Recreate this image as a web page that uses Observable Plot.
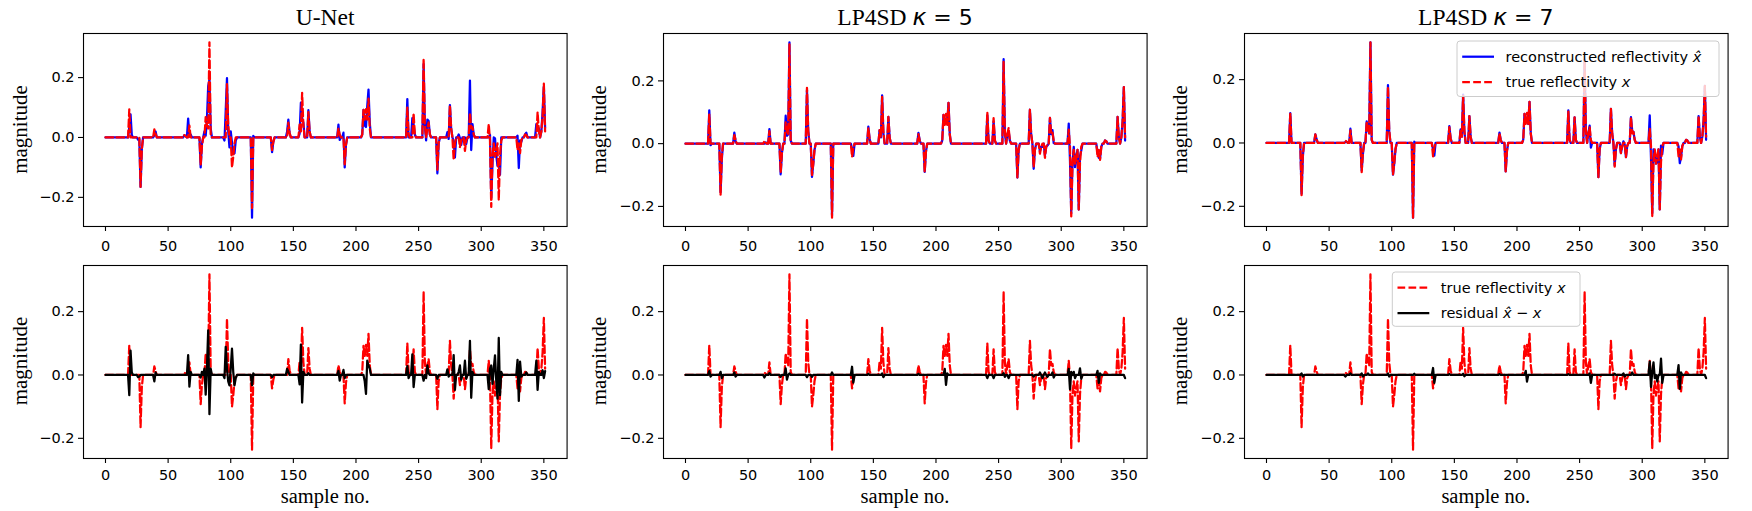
<!DOCTYPE html>
<html><head><meta charset="utf-8">
<script src="https://cdn.jsdelivr.net/npm/d3@7"></script>
<script src="https://cdn.jsdelivr.net/npm/@observablehq/plot@0.6"></script>
<style>
html,body{margin:0;padding:0;background:#fff}
#fig{position:relative;width:1752px;height:511px;overflow:hidden;background:#fff}
#fig > svg, #fig > figure{position:absolute;margin:0}
</style></head>
<body><div id="fig"></div>
<script>
// ---------------- data ----------------
const N_SAMPLES = 352;
const xTicks = [0, 50, 100, 150, 200, 250, 300, 350];
const yTicks = [-0.2, 0.0, 0.2];
const panelTitles = ["U-Net", "LP4SD", "LP4SD"];
const panelKappa = [null, "5", "7"];
const yLabel = "magnitude";
const xLabel = "sample no.";

// true reflectivity x : [sample, value] (zero elsewhere)
const trueSpikes = [
  [19,0.094],[28,-0.165],[29,-0.04],[39,0.027],[40,0.012],[63,0.008],[64,0.004],[67,0.04],
  [76,-0.092],[77,-0.03],[80,0.068],[81,0.04],[82,0.03],[83,0.318],[84,0.01],
  [97,0.178],[98,0.04],[101,-0.1],[102,-0.065],[103,-0.02],
  [117,-0.236],[133,-0.042],[134,-0.015],[146,0.05],[147,0.015],
  [155,0.043],[156,0.02],[157,0.149],[158,0.04],[162,0.085],[163,0.02],
  [186,0.03],[187,0.01],[191,-0.09],[192,-0.025],
  [205,0.01],[206,0.092],[207,0.06],[208,0.095],[209,0.06],[210,0.13],[211,0.03],
  [241,0.1],[242,0.01],[246,0.081],[247,0.01],
  [254,0.263],[255,0.04],[257,0.03],[258,0.05],[259,0.01],
  [265,-0.108],[266,-0.02],[275,0.108],[276,0.03],[278,-0.075],[279,-0.02],
  [283,-0.032],[284,-0.01],[287,-0.045],[288,-0.01],[291,0.082],[292,0.03],[293,0.035],[294,0.01],
  [306,0.045],[307,-0.01],[308,-0.232],[309,-0.06],[310,-0.02],[311,-0.065],[312,-0.04],[313,-0.02],
  [314,-0.21],[315,-0.06],[316,-0.01],
  [329,-0.042],[330,-0.02],[331,-0.052],[332,-0.01],[335,0.01],[336,0.008],
  [345,0.085],[346,0.02],[348,0.02],[349,0.07],[350,0.18],[351,0.02]
];

// residual x_hat - x for each method : [sample, value]
const residualUNet = [
  [19,-0.064],[20,0.077],[21,0.008],[26,-0.007],[27,-0.005],[39,-0.02],[40,0.008],
  [66,0.063],[67,-0.037],[68,0.01],[76,-0.008],[77,0.01],
  [79,0.02],[80,-0.062],[81,0.02],[82,0.141],[83,-0.124],[84,0.02],
  [95,-0.01],[96,0.089],[97,0.02],[98,-0.02],[99,-0.033],[100,0.02],[101,0.083],[102,0.01],[103,-0.033],[104,-0.01],
  [117,-0.032],[118,0.005],[133,-0.007],[145,0.019],[146,0.01],
  [155,-0.03],[156,0.096],[157,-0.087],[158,0.01],[162,0.006],
  [186,0.013],[187,-0.018],[190,0.016],[191,-0.01],
  [207,-0.02],[208,-0.06],[209,0.045],[210,0.03],[211,0.02],
  [241,0.028],[242,-0.01],[245,0.065],[246,-0.038],
  [254,-0.018],[256,-0.01],[257,0.03],[258,0.005],[265,-0.012],
  [273,0.018],[274,-0.005],[278,0.063],[279,-0.047],
  [282,0.01],[283,0.03],[284,-0.015],[287,0.045],[288,-0.012],
  [291,0.108],[292,-0.072],[293,0.01],
  [306,-0.045],[307,0.019],[308,0.03],[309,-0.028],[310,0.02],[311,0.062],[312,-0.02],
  [313,-0.075],[314,0.117],[315,-0.064],[316,0.01],
  [329,0.048],[330,-0.082],[331,0.042],[332,-0.005],[336,0.008],
  [344,0.045],[345,-0.047],[346,0.01],[349,0.015],[350,-0.01],[351,0.012]
];
const residualK5 = [
  [19,0.012],[20,-0.005],[28,0.01],[29,-0.01],[39,0.008],[40,-0.005],[63,-0.008],[67,0.006],[76,-0.006],
  [80,0.021],[81,-0.015],[83,0.005],[97,-0.007],[101,-0.006],[117,0.008],
  [133,0.026],[134,-0.024],[146,0.004],[157,0.005],[158,-0.007],[186,0.004],
  [207,0.019],[208,-0.031],[209,0.005],[241,-0.01],[246,-0.01],[254,0.006],[255,-0.006],[258,-0.01],[278,-0.005],
  [283,0.008],[285,-0.01],[287,0.008],[289,-0.006],[293,0.008],[294,-0.008],
  [306,0.019],[307,-0.045],[308,0.01],[310,0.01],[311,-0.01],[315,0.021],[316,-0.012],
  [329,0.013],[330,-0.025],[331,0.005],[351,-0.01]
];
const residualK7 = [
  [28,0.005],[29,-0.005],[63,-0.005],[67,0.005],[76,0.005],[77,-0.005],[81,0.005],[97,0.005],[98,-0.005],[118,0.004],
  [133,0.022],[134,-0.025],[146,0.003],[157,0.004],[158,-0.004],[186,0.003],
  [207,0.013],[208,-0.021],[241,0.003],[258,0.005],[259,-0.025],[278,0.004],[285,0.005],[286,-0.005],[292,0.008],
  [306,0.042],[307,-0.038],[308,0.01],[309,0.04],[310,-0.01],[312,-0.021],[315,0.052],[316,-0.025],
  [329,0.031],[330,-0.044],[331,0.008],[351,-0.01]
];
const residuals = [residualUNet, residualK5, residualK7];

// ---------------- build series ----------------
function dense(spikes) {
  const a = new Array(N_SAMPLES).fill(0);
  for (const [i, v] of spikes) a[i] += v;
  return a;
}
const xTrue = dense(trueSpikes);
const methods = residuals.map(r => {
  const res = dense(r);
  const rec = xTrue.map((v, i) => v + res[i]);
  return {res, rec};
});
const toRows = arr => arr.map((v, i) => ({i, v}));

// ---------------- layout ----------------
const colLeft = [83.4, 663.2, 1244];
const frameW = 483.6;
const rowTop = [33, 264.5];
const frameH = 193;
const tickPad = [9, 6.5];
const ML = 70, MR = 12, MT = 12, MB = 45;
const BLUE = "#0000ff", RED = "#ff0000", BLACK = "#000000";
const DASH = "7.7,3.3";
const LW = 2.25;
const fig = document.getElementById("fig");
const xDomain = [-0.05 * (N_SAMPLES - 1), (N_SAMPLES - 1) * 1.05];
const fmtY = d3.format(".1f");

function padDomain(values) {
  const [lo, hi] = d3.extent(values);
  const p = 0.05 * (hi - lo);
  return [lo - p, hi + p];
}

function panel(col, row) {
  const trueRows = toRows(xTrue);
  let marks, yDom;
  if (row === 0) {
    const recRows = toRows(methods[col].rec);
    yDom = padDomain(xTrue.concat(methods[col].rec));
    marks = [
      Plot.line(recRows, {x: "i", y: "v", stroke: BLUE, strokeWidth: LW}),
      Plot.line(trueRows, {x: "i", y: "v", stroke: RED, strokeWidth: LW, strokeDasharray: DASH})
    ];
  } else {
    const resRows = toRows(methods[col].res);
    yDom = padDomain(xTrue.concat(methods[col].res));
    marks = [
      Plot.line(trueRows, {x: "i", y: "v", stroke: RED, strokeWidth: LW, strokeDasharray: DASH}),
      Plot.line(resRows, {x: "i", y: "v", stroke: BLACK, strokeWidth: LW})
    ];
  }
  const svg = Plot.plot({
    width: frameW + ML + MR,
    height: frameH + MT + MB,
    marginLeft: ML, marginRight: MR, marginTop: MT, marginBottom: MB,
    style: {fontFamily: "'DejaVu Sans', sans-serif", fontSize: "14.5px", color: "black", background: "transparent", overflow: "visible"},
    x: {domain: xDomain},
    y: {domain: yDom},
    marks: [
      ...marks,
      Plot.axisX({ticks: xTicks, tickSize: 5, tickPadding: tickPad[row], tickFormat: d => String(d), label: null, strokeWidth: 1.1}),
      Plot.axisY({ticks: yTicks, tickSize: 5, tickPadding: 4, tickFormat: fmtY, label: null, strokeWidth: 1.1}),
      Plot.frame({stroke: "black", strokeWidth: 1.1})
    ]
  });
  svg.style.left = (colLeft[col] - ML) + "px";
  svg.style.top = (rowTop[row] - MT) + "px";
  fig.appendChild(svg);
}
for (let r = 0; r < 2; r++) for (let c = 0; c < 3; c++) panel(c, r);

// ---------------- text overlay: titles, labels, legends ----------------
const ov = d3.select(fig).append("svg")
  .attr("width", 1752).attr("height", 511)
  .style("left", "0px").style("top", "0px").style("pointer-events", "none");
const SERIF = "'Liberation Serif', 'Times New Roman', serif";
const SANS = "'DejaVu Sans', sans-serif";

// titles
panelTitles.forEach((t, c) => {
  const cx = colLeft[c] + frameW / 2;
  const tx = ov.append("text").attr("x", cx).attr("y", 25).attr("text-anchor", "middle")
    .attr("font-size", 23.5).attr("fill", "black");
  tx.append("tspan").attr("font-family", SERIF).text(t);
  if (panelKappa[c]) {
    tx.append("tspan").attr("font-family", SERIF).text(" ");
    tx.append("tspan").attr("font-family", SANS).attr("font-style", "italic").text("κ");
    tx.append("tspan").attr("font-family", SANS).attr("font-size", 22).text(" = " + panelKappa[c]);
  }
});
// y labels
for (let r = 0; r < 2; r++) for (let c = 0; c < 3; c++) {
  const x = colLeft[c] - 56.9;
  const y = rowTop[r] + frameH / 2;
  ov.append("text").attr("transform", `translate(${x},${y}) rotate(-90)`)
    .attr("text-anchor", "middle").attr("font-family", SERIF).attr("font-size", 21)
    .attr("fill", "black").text(yLabel);
}
// x labels
for (let c = 0; c < 3; c++) {
  ov.append("text").attr("x", colLeft[c] + frameW / 2).attr("y", 503)
    .attr("text-anchor", "middle").attr("font-family", SERIF).attr("font-size", 20.5)
    .attr("fill", "black").text(xLabel);
}

// legends
function legend(x, y, w, h, items) {
  const g = ov.append("g");
  g.append("rect").attr("x", x).attr("y", y).attr("width", w).attr("height", h)
    .attr("rx", 3).attr("fill", "white").attr("fill-opacity", 0.8)
    .attr("stroke", "#cccccc").attr("stroke-width", 1);
  items.forEach((it, k) => {
    const cy = y + 15.7 + k * 25.3;
    g.append("line").attr("x1", x + 5.2).attr("x2", x + 37).attr("y1", cy).attr("y2", cy)
      .attr("stroke", it.color).attr("stroke-width", LW).attr("stroke-dasharray", it.dash || null);
    const t = g.append("text").attr("x", x + 48.5).attr("y", cy).attr("dy", "0.36em")
      .attr("font-family", SANS).attr("font-size", 14.5).attr("fill", "black");
    it.parts.forEach(p => {
      t.append("tspan").attr("font-style", p.it ? "italic" : null).text(p.s);
    });
  });
}
legend(1457, 41, 262, 55.5, [
  {color: BLUE, parts: [{s: "reconstructed reflectivity "}, {s: "x\u0302", it: true}]},
  {color: RED, dash: DASH, parts: [{s: "true reflectivity "}, {s: "x", it: true}]}
]);
legend(1392.3, 272, 187.7, 54.3, [
  {color: RED, dash: DASH, parts: [{s: "true reflectivity "}, {s: "x", it: true}]},
  {color: BLACK, parts: [{s: "residual "}, {s: "x\u0302", it: true}, {s: " \u2212 "}, {s: "x", it: true}]}
]);
</script>
</body></html>
